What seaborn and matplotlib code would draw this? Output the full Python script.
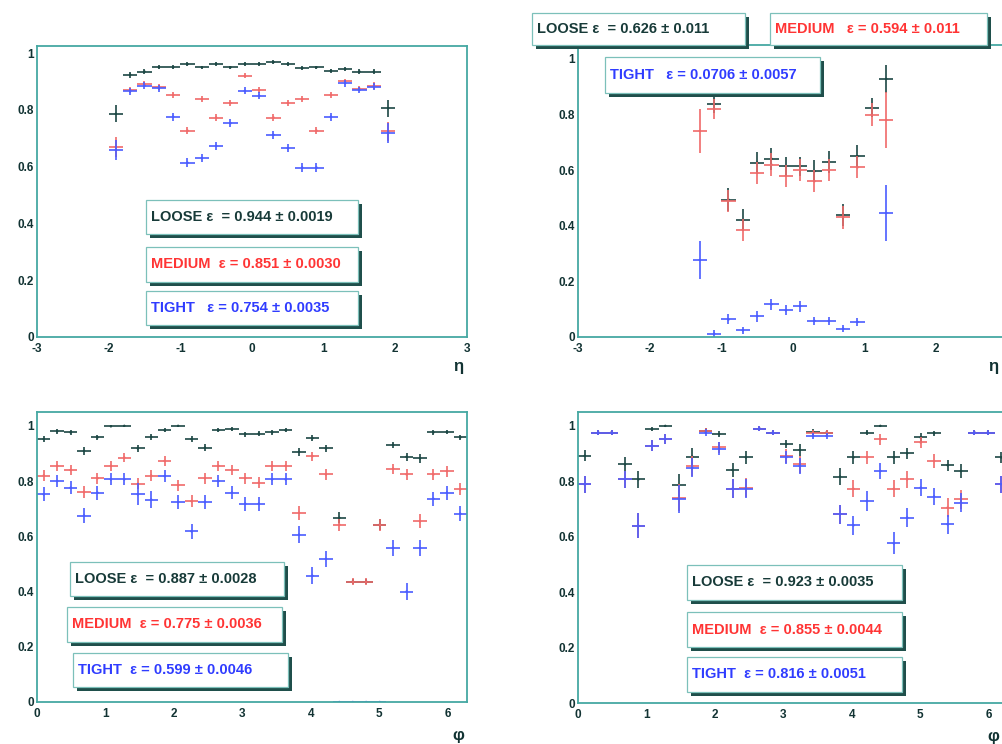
import numpy as np
import pandas as pd
import seaborn as sns
import matplotlib
matplotlib.use('Agg')
import matplotlib.pyplot as plt
from matplotlib.patches import Rectangle

# ---- data ----
ETA = [-1.9, -1.7, -1.5, -1.3, -1.1, -0.9, -0.7, -0.5, -0.3, -0.1,
       0.1, 0.3, 0.5, 0.7, 0.9, 1.1, 1.3, 1.5, 1.7, 1.9]
eta_loose = [0.786, 0.924, 0.935, 0.95, 0.95, 0.961, 0.95, 0.962, 0.95, 0.962,
             0.962, 0.968, 0.961, 0.947, 0.95, 0.938, 0.944, 0.935, 0.935, 0.806]
eta_loose_err = [0.03, 0.01, 0.008, 0.007, 0.007, 0.006, 0.006, 0.006, 0.006, 0.006,
                 0.006, 0.006, 0.006, 0.006, 0.006, 0.007, 0.007, 0.008, 0.01, 0.03]
eta_medium = [0.67, 0.87, 0.89, 0.88, 0.853, 0.727, 0.838, 0.773, 0.824, 0.92,
              0.87, 0.773, 0.824, 0.838, 0.727, 0.853, 0.9, 0.875, 0.885, 0.724]
eta_medium_err = [0.035, 0.012, 0.01, 0.01, 0.01, 0.012, 0.01, 0.011, 0.01, 0.009,
                  0.01, 0.011, 0.01, 0.01, 0.012, 0.01, 0.01, 0.01, 0.012, 0.035]
eta_tight = [0.659, 0.865, 0.885, 0.876, 0.776, 0.614, 0.63, 0.673, 0.753, 0.867,
             0.85, 0.712, 0.665, 0.597, 0.597, 0.776, 0.894, 0.87, 0.882, 0.72]
eta_tight_err = [0.035, 0.013, 0.012, 0.012, 0.014, 0.015, 0.015, 0.015, 0.014, 0.012,
                 0.012, 0.014, 0.015, 0.015, 0.015, 0.014, 0.012, 0.012, 0.013, 0.035]

ETA2 = [-1.3, -1.1, -0.9, -0.7, -0.5, -0.3, -0.1, 0.1, 0.3, 0.5, 0.7, 0.9, 1.1, 1.3]
eta2_loose = [np.nan, 0.837, 0.494, 0.42, 0.627, 0.641, 0.614, 0.614, 0.596, 0.629, 0.44, 0.65, 0.825, 0.928]
eta2_loose_err = [np.nan, 0.03, 0.04, 0.04, 0.04, 0.04, 0.035, 0.035, 0.04, 0.04, 0.04, 0.04, 0.035, 0.05]
eta2_medium = [0.741, 0.82, 0.49, 0.386, 0.59, 0.62, 0.58, 0.6, 0.56, 0.6, 0.43, 0.61, 0.8, 0.78]
eta2_medium_err = [0.08, 0.035, 0.04, 0.04, 0.04, 0.04, 0.04, 0.04, 0.04, 0.04, 0.04, 0.04, 0.04, 0.1]
eta2_tight = [0.277, 0.012, 0.063, 0.024, 0.075, 0.118, 0.096, 0.111, 0.058, 0.058, 0.03, 0.054, np.nan, 0.446]
eta2_tight_err = [0.07, 0.012, 0.018, 0.012, 0.02, 0.02, 0.018, 0.02, 0.015, 0.015, 0.012, 0.015, np.nan, 0.1]

PHI = [0.098, 0.295, 0.491, 0.687, 0.884, 1.080, 1.276, 1.473, 1.669, 1.865, 2.062,
       2.258, 2.454, 2.651, 2.847, 3.043, 3.240, 3.436, 3.632, 3.829, 4.025, 4.221,
       4.418, 4.614, 4.810, 5.007, 5.203, 5.400, 5.596, 5.792, 5.989, 6.185]
phi_loose = [0.952, 0.98, 0.976, 0.909, 0.958, 0.998, 1.0, 0.918, 0.96, 0.984, 1.0,
             0.952, 0.921, 0.984, 0.988, 0.97, 0.972, 0.976, 0.984, 0.906, 0.955, 0.918,
             0.667, 0.436, 0.436, 0.642, 0.931, 0.888, 0.882, 0.976, 0.978, 0.958]
phi_loose_err = [0.01, 0.008, 0.008, 0.014, 0.01, 0.004, 0.003, 0.014, 0.01, 0.008, 0.003,
                 0.01, 0.012, 0.008, 0.007, 0.009, 0.009, 0.008, 0.008, 0.014, 0.01, 0.012,
                 0.02, 0.01, 0.01, 0.02, 0.012, 0.015, 0.015, 0.008, 0.008, 0.01]
phi_medium = [0.82, 0.855, 0.84, 0.76, 0.81, 0.855, 0.885, 0.79, 0.82, 0.873, 0.785,
              0.727, 0.81, 0.855, 0.84, 0.81, 0.794, 0.855, 0.855, 0.685, 0.89, 0.824,
              0.642, 0.436, 0.436, 0.64, 0.845, 0.824, 0.654, 0.824, 0.836, 0.77]
phi_medium_err = [0.02, 0.018, 0.018, 0.022, 0.02, 0.018, 0.016, 0.02, 0.02, 0.018, 0.02,
                  0.022, 0.02, 0.018, 0.018, 0.02, 0.02, 0.018, 0.018, 0.025, 0.016, 0.02,
                  0.022, 0.012, 0.012, 0.022, 0.018, 0.02, 0.025, 0.02, 0.02, 0.022]
phi_tight = [0.752, 0.8, 0.776, 0.675, 0.758, 0.806, 0.806, 0.752, 0.733, 0.818, 0.724,
             0.618, 0.724, 0.8, 0.758, 0.718, 0.718, 0.806, 0.806, 0.606, 0.457, 0.518,
             0.0, 0.0, 0.0, 0.0, 0.558, 0.4, 0.558, 0.736, 0.758, 0.682]
phi_tight_err = [0.025, 0.022, 0.024, 0.028, 0.025, 0.022, 0.022, 0.04, 0.03, 0.022, 0.025,
                 0.028, 0.025, 0.022, 0.024, 0.025, 0.025, 0.022, 0.022, 0.03, 0.03, 0.03,
                 0.002, 0.002, 0.002, 0.004, 0.03, 0.03, 0.03, 0.025, 0.025, 0.028]

phi2_loose = [0.892, 0.976, 0.976, 0.861, 0.807, 0.988, 1.0, 0.786, 0.889, 0.982, 0.97,
              0.841, 0.886, 0.99, 0.976, 0.934, 0.913, 0.978, 0.976, 0.817, 0.886, 0.976,
              1.0, 0.886, 0.901, 0.958, 0.973, 0.858, 0.837, 0.976, 0.976, 0.886]
phi2_loose_err = [0.02, 0.01, 0.01, 0.025, 0.03, 0.008, 0.004, 0.04, 0.03, 0.01, 0.012,
                  0.025, 0.025, 0.006, 0.01, 0.015, 0.02, 0.01, 0.01, 0.03, 0.025, 0.01,
                  0.004, 0.025, 0.02, 0.015, 0.01, 0.02, 0.025, 0.01, 0.01, 0.02]
phi2_medium = [0.789, 0.976, 0.976, 0.807, 0.639, 0.928, 0.952, 0.741, 0.855, 0.982, 0.922,
               0.773, 0.777, 0.99, 0.976, 0.892, 0.861, 0.976, 0.976, 0.681, 0.773, 0.886,
               0.952, 0.773, 0.807, 0.94, 0.873, 0.705, 0.735, 0.976, 0.976, 0.789]
phi2_medium_err = [0.03, 0.01, 0.01, 0.03, 0.045, 0.02, 0.018, 0.05, 0.035, 0.01, 0.02,
                   0.035, 0.035, 0.008, 0.01, 0.025, 0.03, 0.01, 0.01, 0.035, 0.03, 0.025,
                   0.02, 0.03, 0.03, 0.02, 0.025, 0.035, 0.035, 0.01, 0.01, 0.03]
phi2_tight = [0.789, 0.976, 0.976, 0.807, 0.639, 0.928, 0.952, 0.737, 0.849, 0.976, 0.918,
              0.773, 0.773, 0.99, 0.976, 0.886, 0.855, 0.964, 0.964, 0.681, 0.641, 0.729,
              0.837, 0.576, 0.669, 0.777, 0.745, 0.645, 0.723, 0.976, 0.976, 0.789]
phi2_tight_err = [0.03, 0.01, 0.01, 0.03, 0.045, 0.02, 0.018, 0.05, 0.035, 0.012, 0.022,
                  0.035, 0.035, 0.008, 0.01, 0.025, 0.03, 0.012, 0.012, 0.035, 0.035, 0.035,
                  0.03, 0.04, 0.035, 0.03, 0.03, 0.035, 0.035, 0.01, 0.01, 0.03]

CUTS = ['LOOSE', 'MEDIUM', 'TIGHT']
Y_TICKS = [0, 0.2, 0.4, 0.6, 0.8, 1]
Y_TICKLABELS = ['0', '0.2', '0.4', '0.6', '0.8', '1']
ETA_TICKS = [-3, -2, -1, 0, 1, 2, 3]
ETA_TICKLABELS = ['-3', '-2', '-1', '0', '1', '2', '3']
ETA_TICKLABELS_CUT = ['-3', '-2', '-1', '0', '1', '2', '']   # right panel runs off the page
PHI_TICKS = [0, 1, 2, 3, 4, 5, 6]
PHI_TICKLABELS = ['0', '1', '2', '3', '4', '5', '6']

# legend texts per panel
TEXT_TL = ['LOOSE ε  = 0.944 ± 0.0019', 'MEDIUM  ε = 0.851 ± 0.0030', 'TIGHT   ε = 0.754 ± 0.0035']
TEXT_TR = ['LOOSE ε  = 0.626 ± 0.011', 'MEDIUM   ε = 0.594 ± 0.011', 'TIGHT   ε = 0.0706 ± 0.0057']
TEXT_BL = ['LOOSE ε  = 0.887 ± 0.0028', 'MEDIUM  ε = 0.775 ± 0.0036', 'TIGHT  ε = 0.599 ± 0.0046']
TEXT_BR = ['LOOSE ε  = 0.923 ± 0.0035', 'MEDIUM  ε = 0.855 ± 0.0044', 'TIGHT  ε = 0.816 ± 0.0051']

W, H = 1003, 744
COLORS = {'LOOSE': '#1c4744', 'MEDIUM': '#f06a6a', 'TIGHT': '#4a5cff'}
TEXT_COLORS = {'LOOSE': '#173a38', 'MEDIUM': '#ff3434', 'TIGHT': '#2f3cff'}
FRAME = '#45a8a2'


def px_axes(fig, left, top, right, bottom):
    return fig.add_axes([left / W, 1 - bottom / H, (right - left) / W, (bottom - top) / H])


def draw_panel(ax, xs, series, half, xlim, ylim, xticks, xticklabels, minor, xlabel):
    rows = []
    for cut, (vals, errs) in zip(CUTS, series):
        for x, v, e in zip(xs, vals, errs):
            rows.append({'x': x, 'eff': v, 'err': e, 'cut': cut})
    df = pd.DataFrame(rows).dropna()
    for cut in CUTS:
        d = df[df['cut'] == cut]
        ax.errorbar(d['x'], d['eff'], xerr=half, yerr=d['err'], fmt='none',
                    ecolor=COLORS[cut], elinewidth=1.2, capsize=0)
    sns.scatterplot(data=df, x='x', y='eff', hue='cut', palette=COLORS, s=3,
                    linewidth=0, legend=False, ax=ax)
    ax.set_xlim(*xlim)
    ax.set_ylim(*ylim)
    ax.set_xticks(xticks)
    ax.set_xticklabels(xticklabels)
    ax.set_xticks(minor, minor=True)
    ax.set_yticks(Y_TICKS)
    ax.set_yticklabels(Y_TICKLABELS)
    ax.set_yticks(np.arange(0, 1.01, 0.05), minor=True)
    ax.set_xlabel('')
    ax.set_ylabel('')
    for s in ax.spines.values():
        s.set_color(FRAME)
        s.set_linewidth(1.3)
    ax.tick_params(which='major', direction='in', length=10, width=1.1, color=FRAME,
                   labelsize=8.5, labelcolor='#123333', pad=2)
    ax.tick_params(which='minor', direction='in', length=5, width=1.0, color=FRAME)
    ax.tick_params(axis='x', pad=4)
    for lab in ax.get_xticklabels() + ax.get_yticklabels():
        lab.set_fontweight('bold')
    ax.text(xlabel[1], xlabel[2], xlabel[0], transform=ax.transAxes, fontsize=12,
            color='#123333', ha='center', va='center', fontweight='bold')


def pave(fig, left, top, right, bottom, text, cut):
    sh = 4
    fig.add_artist(Rectangle(((left + sh) / W, 1 - (bottom + sh) / H), (right - left) / W,
                             (bottom - top) / H, transform=fig.transFigure,
                             facecolor='#1f4f4b', edgecolor='none', zorder=5))
    fig.add_artist(Rectangle((left / W, 1 - bottom / H), (right - left) / W, (bottom - top) / H,
                             transform=fig.transFigure, facecolor='white',
                             edgecolor='#7cc0ba', linewidth=0.9, zorder=6))
    fig.text((left + 5) / W, 1 - (top + bottom) / 2 / H, text, color=TEXT_COLORS[cut],
             fontsize=10.5, fontweight='bold', ha='left', va='center', zorder=7)


sns.set_theme(style='white')
plt.rcParams['font.family'] = ['Liberation Sans', 'DejaVu Sans']

fig = plt.figure(figsize=(W / 100, H / 100), dpi=100)

eta_minor = np.arange(-3, 3.01, 0.2)
phi_minor = np.arange(0, 6.3, 0.2)

ax1 = px_axes(fig, 37, 46, 467, 337)
draw_panel(ax1, ETA, [(eta_loose, eta_loose_err), (eta_medium, eta_medium_err),
                      (eta_tight, eta_tight_err)],
           0.1, (-3, 3), (0, 1.025), ETA_TICKS, ETA_TICKLABELS, eta_minor, ('η', 0.979, -0.10))

ax2 = px_axes(fig, 578, 45, 1008, 337)
draw_panel(ax2, ETA2, [(eta2_loose, eta2_loose_err), (eta2_medium, eta2_medium_err),
                       (eta2_tight, eta2_tight_err)],
           0.1, (-3, 3), (0, 1.05), ETA_TICKS, ETA_TICKLABELS_CUT, eta_minor, ('η', 0.965, -0.10))

ax3 = px_axes(fig, 37, 412, 467, 702)
draw_panel(ax3, PHI, [(phi_loose, phi_loose_err), (phi_medium, phi_medium_err),
                      (phi_tight, phi_tight_err)],
           0.098, (0, 2 * np.pi), (0, 1.05), PHI_TICKS, PHI_TICKLABELS, phi_minor, ('φ', 0.979, -0.115))

ax4 = px_axes(fig, 578, 412, 1008, 703)
draw_panel(ax4, PHI, [(phi2_loose, phi2_loose_err), (phi2_medium, phi2_medium_err),
                      (phi2_tight, phi2_tight_err)],
           0.098, (0, 2 * np.pi), (0, 1.05), PHI_TICKS, PHI_TICKLABELS, phi_minor, ('φ', 0.965, -0.115))

# text boxes
for box, txt, cut in zip([(146, 200, 358, 234), (146, 247, 358, 282), (146, 291, 358, 325)], TEXT_TL, CUTS):
    pave(fig, *box, txt, cut)
for box, txt, cut in zip([(532, 13, 745, 45), (770, 13, 987, 45), (605, 57, 820, 93)], TEXT_TR, CUTS):
    pave(fig, *box, txt, cut)
for box, txt, cut in zip([(70, 562, 284, 596), (67, 607, 282, 642), (73, 653, 288, 687)], TEXT_BL, CUTS):
    pave(fig, *box, txt, cut)
for box, txt, cut in zip([(687, 565, 902, 600), (687, 612, 902, 647), (687, 657, 902, 692)], TEXT_BR, CUTS):
    pave(fig, *box, txt, cut)

fig.savefig('out.png', dpi=100, facecolor='white')
